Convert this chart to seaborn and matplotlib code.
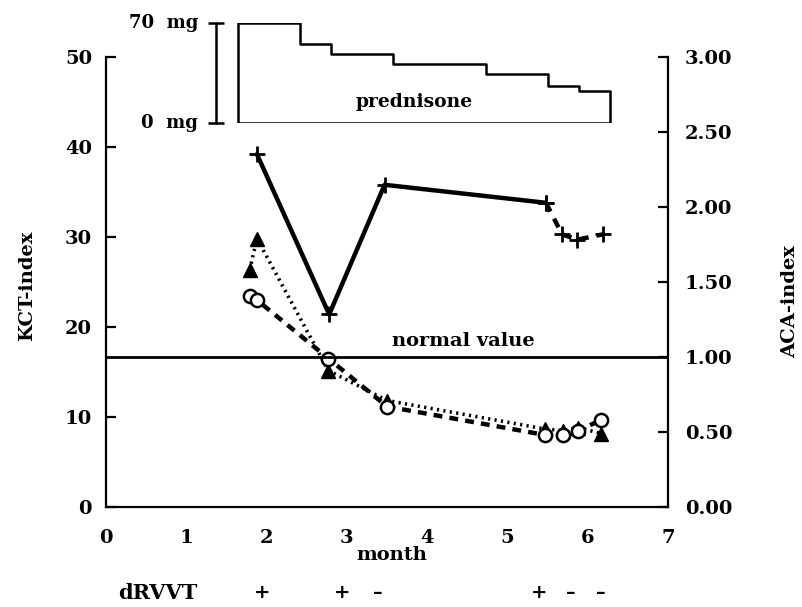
import matplotlib
matplotlib.use("Agg")
import matplotlib.pyplot as plt
import seaborn as sns
import pandas as pd

# ---------------- data ----------------
kct_months = [1.88, 2.78, 3.47, 5.48, 5.68, 5.87, 6.19]
kct_index = [39.2, 21.4, 35.8, 33.8, 30.3, 29.7, 30.3]

aca_months = [1.79, 1.88, 2.77, 3.50, 5.47, 5.69, 5.88, 6.17]
aca_triangle = [1.58, 1.79, 0.91, 0.71, 0.52, 0.51, 0.53, 0.49]
aca_circle = [1.41, 1.38, 0.99, 0.67, 0.48, 0.48, 0.51, 0.58]

pred_start = [1.64, 2.42, 2.80, 3.57, 4.73, 5.50, 5.89]
pred_end = 6.28
pred_dose = [70, 55, 48, 41, 34, 26, 22]

normal_aca = 1.00

drvvt_months = [1.94, 2.94, 3.38, 5.40, 5.79, 6.16]
drvvt_signs = ["+", "+", "\u2013", "+", "\u2013", "\u2013"]

x_ticks = [0, 1, 2, 3, 4, 5, 6, 7]
kct_ticks = [0, 10, 20, 30, 40, 50]
aca_ticks = [0.0, 0.5, 1.0, 1.5, 2.0, 2.5, 3.0]

# ---------------- style ----------------
sns.set_theme(style="white")
plt.rcParams["font.family"] = ["DejaVu Serif"]
plt.rcParams["font.weight"] = "bold"
for k in ("text.color", "axes.labelcolor", "xtick.color", "ytick.color", "axes.edgecolor"):
    plt.rcParams[k] = "black"
FS = 14

W, H = 803, 607
fig = plt.figure(figsize=(W / 100, H / 100), dpi=100)

L, R, T, B = 106, 668, 57, 507
ax = fig.add_axes([L / W, 1 - B / H, (R - L) / W, (B - T) / H])
ax2 = ax.twinx()

# KCT series (left axis)
kct = pd.DataFrame({"month": kct_months, "kct": kct_index})
sns.lineplot(data=kct.iloc[:4], x="month", y="kct", ax=ax, color="black",
             linewidth=3.2, marker="+", markersize=12, mec="black", mew=2,
             estimator=None, sort=False)
sns.lineplot(data=kct.iloc[3:], x="month", y="kct", ax=ax, color="black",
             linewidth=3.2, linestyle=(0, (2.2, 1.8)), marker="+",
             markersize=12, mec="black", mew=2, estimator=None, sort=False)

# ACA series (right axis)
aca = pd.DataFrame({"month": aca_months, "tri": aca_triangle, "circ": aca_circle})
sns.lineplot(data=aca, x="month", y="tri", ax=ax2, color="black",
             linewidth=2.6, linestyle=(0, (0.6, 1.2)), marker="^",
             markersize=9.5, mfc="black", mec="black", mew=1,
             estimator=None, sort=False)
sns.lineplot(data=aca, x="month", y="circ", ax=ax2, color="black",
             linewidth=3.2, linestyle=(0, (2.0, 1.6)), marker="o",
             markersize=9.5, mfc="white", mec="black", mew=1.8,
             estimator=None, sort=False)

ax2.axhline(normal_aca, color="black", linewidth=2)

ax.set_xlim(0, 7)
ax.set_ylim(0, 50)
ax2.set_ylim(0, 3)
ax.set_xticks(x_ticks)
ax.set_yticks(kct_ticks)
ax2.set_yticks(aca_ticks)
ax2.set_yticklabels([f"{v:.2f}" for v in aca_ticks])
ax.set_xlabel("")
ax.set_ylabel("")
ax2.set_ylabel("")

for a in (ax, ax2):
    for s in a.spines.values():
        s.set_linewidth(1.6)
        s.set_color("black")
    a.spines["top"].set_visible(False)
ax.spines["right"].set_visible(False)
ax2.spines["left"].set_visible(False)
ax2.spines["bottom"].set_visible(False)

ax.tick_params(axis="x", direction="in", length=7, width=1.6, labelsize=FS, pad=16, colors="black")
ax.tick_params(axis="y", direction="in", length=7, width=1.6, labelsize=FS, pad=10, colors="black")
ax2.tick_params(axis="y", direction="in", length=7, width=1.6, labelsize=FS, pad=12, colors="black")
for lab in ax.get_xticklabels() + ax.get_yticklabels() + ax2.get_yticklabels():
    lab.set_fontweight("bold")

ax2.text(4.45, normal_aca + 0.11, "normal value", ha="center", va="center",
         fontsize=FS, fontweight="bold", color="black")

# axis titles
fig.text(27 / W, 1 - 286 / H, "KCT-index", rotation=90, ha="center", va="center",
         fontsize=FS, fontweight="bold", color="black")
fig.text(790 / W, 1 - 302 / H, "ACA-index", rotation=90, ha="center", va="center",
         fontsize=FS, fontweight="bold", color="black")
xt = ax.get_xaxis_transform()
ax.text(3.56, -(555 - B) / (B - T), "month", transform=xt, ha="center",
        va="center", fontsize=FS, fontweight="bold", clip_on=False, color="black")

# dRVVT row
y_dr = -(593 - B) / (B - T)
ax.text(0.64, y_dr, "dRVVT", transform=xt, ha="center", va="center",
        fontsize=FS + 1, fontweight="bold", clip_on=False, color="black")
for m, s in zip(drvvt_months, drvvt_signs):
    ax.text(m, y_dr, s, transform=xt, ha="center", va="center",
            fontsize=FS, fontweight="bold", clip_on=False, color="black")

# prednisone inset
P0, P70 = 122.7, 22.7
axp = fig.add_axes([L / W, 1 - P0 / H, (R - L) / W, (P0 - P70) / H])
axp.set_xlim(0, 7)
axp.set_ylim(0, 70)
axp.axis("off")
steps = pd.DataFrame({"month": pred_start + [pred_end],
                      "dose": pred_dose + [pred_dose[-1]]})
sns.lineplot(data=steps, x="month", y="dose", ax=axp, color="black",
             linewidth=1.8, drawstyle="steps-post", estimator=None, sort=False)
axp.vlines([pred_start[0]], 0, pred_dose[0], color="black", linewidth=1.8)
axp.vlines([pred_end], 0, pred_dose[-1], color="black", linewidth=1.8)
axp.hlines([0], pred_start[0], pred_end, color="black", linewidth=1.8)
axp.set_xlabel("")
axp.set_ylabel("")
# scale bar
bar_x = 1.365
axp.plot([bar_x, bar_x], [0, 70], color="black", linewidth=1.8, clip_on=False)
axp.plot([bar_x, bar_x], [0, 70], linestyle="none", marker="_", markersize=11,
         mew=1.8, color="black", clip_on=False)
axp.text(1.15, 70, "70  mg", ha="right", va="center", fontsize=FS - 1,
         fontweight="bold", clip_on=False, color="black")
axp.text(1.15, 0, "0  mg", ha="right", va="center", fontsize=FS - 1,
         fontweight="bold", clip_on=False, color="black")
axp.text(3.84, 14.5, "prednisone", ha="center", va="center", fontsize=FS - 0.5,
         fontweight="bold", color="black")

fig.savefig("out.png", dpi=100)
